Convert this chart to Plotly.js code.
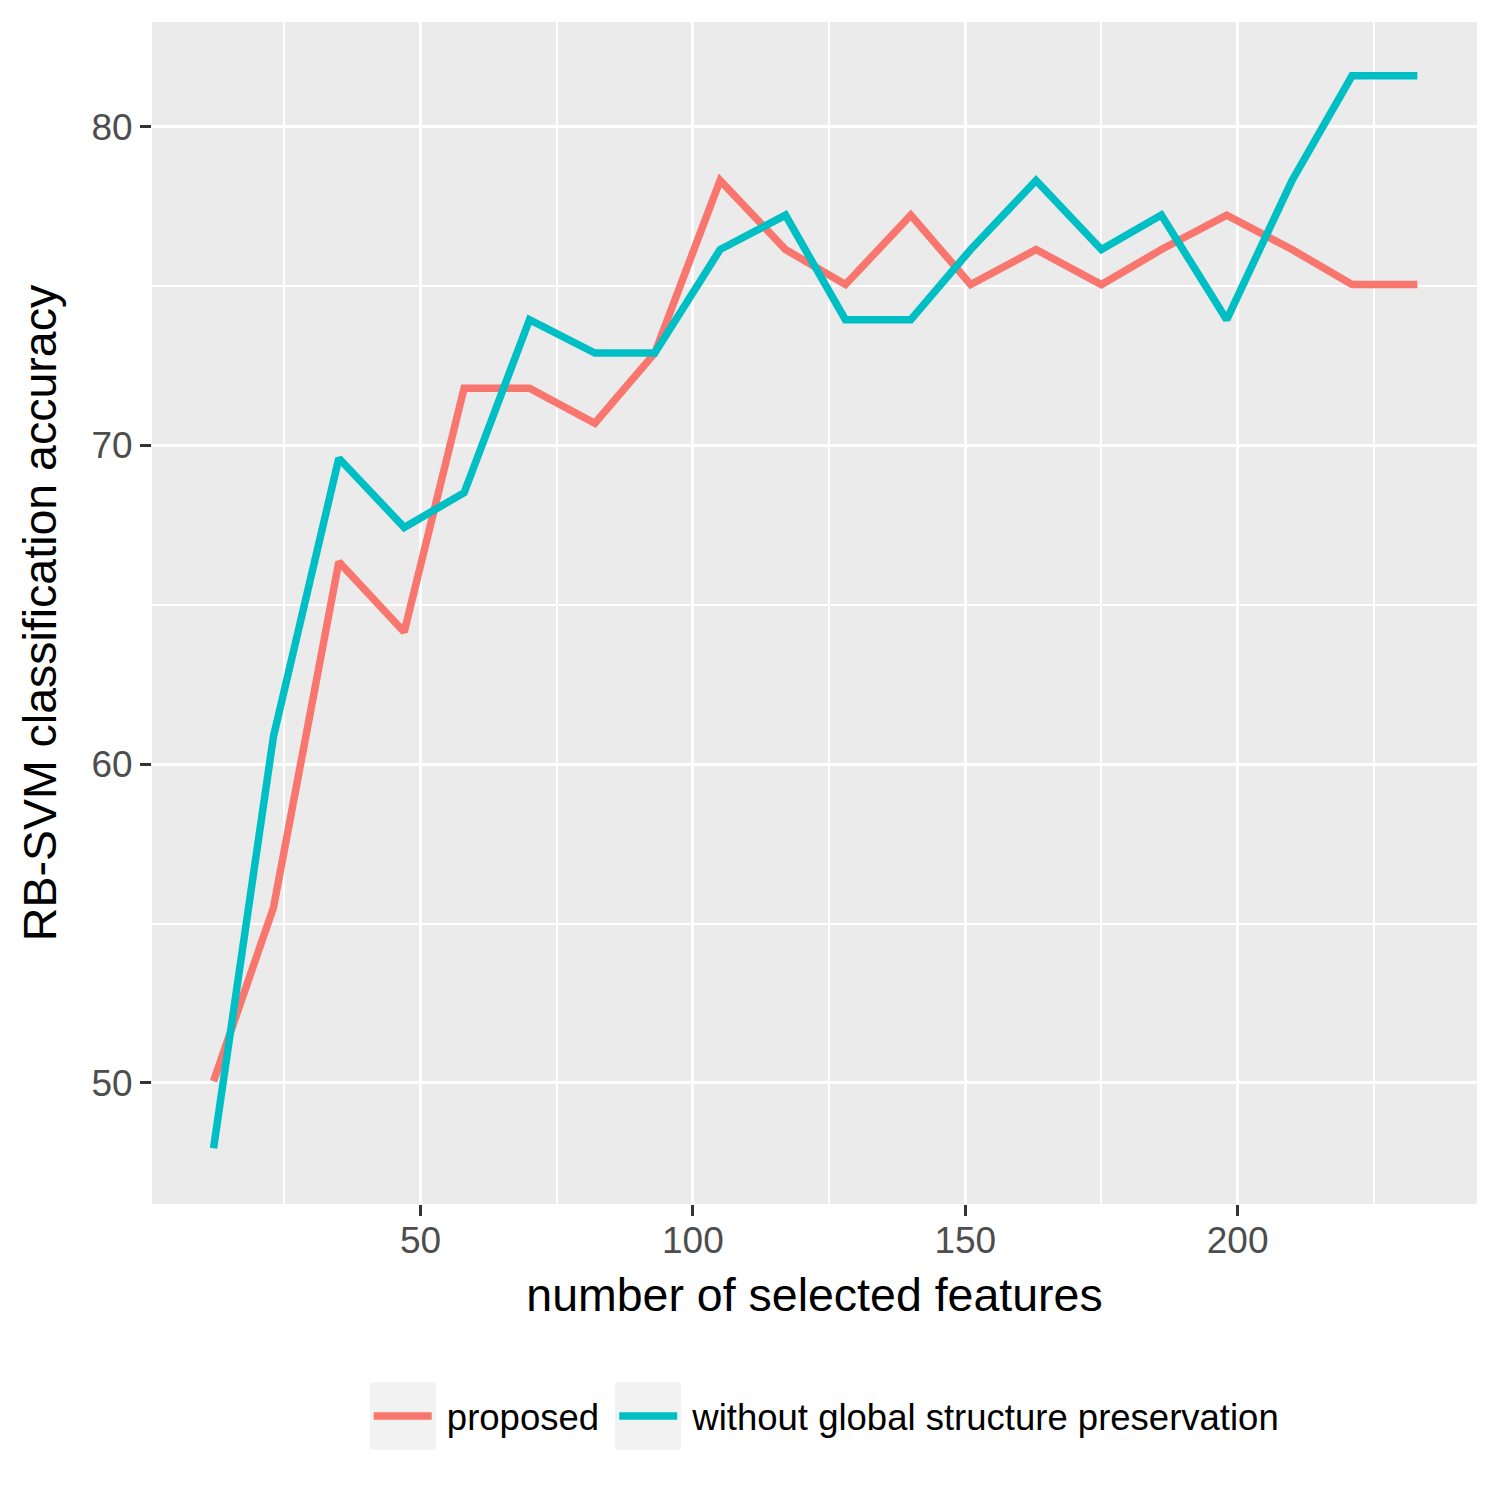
<!DOCTYPE html>
<html>
<head>
<meta charset="utf-8">
<script src="https://cdn.plot.ly/plotly-3.0.1.min.js"></script>
<style>
  html, body { margin: 0; padding: 0; background: #ffffff; }
  #chart { width: 1500px; height: 1500px; }
</style>
</head>
<body>
<div id="chart"></div>
<script>
// number of selected features
const featureCounts = [12, 23, 35, 47, 58, 70, 82, 93, 105, 117, 128, 140, 151, 163, 175, 186, 198, 210, 221, 233];

// RB-SVM accuracy
const proposedAcc = [50.05, 55.5, 66.35, 64.15, 71.8, 71.8, 70.7, 72.9, 78.32, 76.15,
                     75.05, 77.23, 75.05, 76.15, 75.05, 76.15, 77.23, 76.15, 75.05, 75.05];
const withoutGlobalAcc = [47.95, 60.87, 69.6, 67.43, 68.52, 73.95, 72.9, 72.9, 76.15, 77.23,
                          73.95, 73.95, 76.15, 78.32, 76.15, 77.23, 73.95, 78.32, 81.6, 81.6];

const seriesNames = ["proposed", "without global structure preservation"];
const seriesColors = ["#F8766D", "#00BFC4"];

const xTicks = [50, 100, 150, 200];
const yTicks = [50, 60, 70, 80];

const font = "Liberation Sans, Arial, sans-serif";

// no-break spaces keep the ggplot-like gaps around each legend label
const traces = [proposedAcc, withoutGlobalAcc].map((acc, i) => ({
    x: featureCounts,
    y: acc,
    type: "scatter",
    mode: "lines",
    name: "\u00A0" + seriesNames[i] + "\u00A0",
    line: { color: seriesColors[i], width: 7.5 }
}));

const axisCommon = {
    showline: false,
    zeroline: false,
    gridcolor: "#ffffff",
    gridwidth: 3.4,
    ticks: "outside",
    ticklen: 11,
    tickwidth: 3,
    tickcolor: "#333333",
    tickfont: { family: font, size: 37, color: "#4D4D4D" }
};

const margin = { l: 152, r: 23, t: 22, b: 296 };

const layout = {
    width: 1500,
    height: 1500,
    margin: margin,
    paper_bgcolor: "#ffffff",
    plot_bgcolor: "#EBEBEB",
    showlegend: true,
    xaxis: Object.assign({}, axisCommon, {
        range: [0.7, 243.95],
        tickmode: "array",
        tickvals: xTicks,
        ticktext: xTicks.map(String),
        ticklabelstandoff: -7,
        minor: { dtick: 25, tick0: 25, showgrid: true, gridcolor: "#ffffff", gridwidth: 1.7, ticks: "" },
        title: { text: "number of selected features", font: { family: font, size: 46.5, color: "#000000" }, standoff: 18 }
    }),
    yaxis: Object.assign({}, axisCommon, {
        range: [46.2, 83.29],
        tickmode: "array",
        tickvals: yTicks,
        ticktext: yTicks.map(String),
        minor: { dtick: 5, tick0: 45, showgrid: true, gridcolor: "#ffffff", gridwidth: 1.7, ticks: "" },
        title: { text: "RB-SVM classification accuracy", font: { family: font, size: 46.5, color: "#000000" }, standoff: 20 }
    }),
    legend: {
        orientation: "h",
        x: 0.513,
        xanchor: "center",
        y: -0.1795,
        yanchor: "middle",
        font: { family: font, size: 36.5, color: "#000000" },
        bgcolor: "rgba(0,0,0,0)",
        itemwidth: 58,
        traceorder: "normal"
    }
};

Plotly.newPlot("chart", traces, layout, { displayModeBar: false }).then(gd => {
    // light grey key backgrounds behind each legend line, like ggplot's legend keys
    const plotW = layout.width - margin.l - margin.r;
    const plotH = layout.height - margin.t - margin.b;
    const root = gd.getBoundingClientRect();
    const keys = Array.from(gd.querySelectorAll(".legend .traces .legendlines path"));
    const shapes = keys.map(p => {
        const b = p.getBoundingClientRect();
        const cy = b.top + b.height / 2 - root.top;
        const x0 = b.left - root.left - 4;
        const x1 = b.right - root.left + 4;
        const toX = px => (px - margin.l) / plotW;
        const toY = py => (layout.height - margin.b - py) / plotH;
        return {
            type: "rect", xref: "paper", yref: "paper", layer: "above",
            x0: toX(x0), x1: toX(x1), y0: toY(cy + 33.5), y1: toY(cy - 33.5),
            fillcolor: "#F2F2F2", line: { width: 0 }
        };
    });
    return Plotly.relayout(gd, { shapes: shapes });
});
</script>
</body>
</html>
